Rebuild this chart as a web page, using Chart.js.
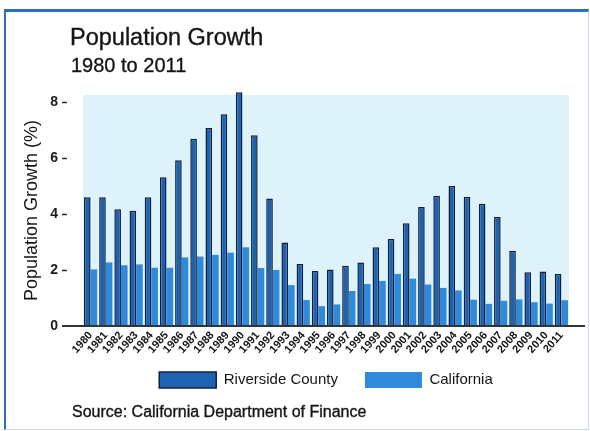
<!DOCTYPE html>
<html>
<head>
<meta charset="utf-8">
<title>Population Growth</title>
<script src="https://cdn.jsdelivr.net/npm/chart.js@4/dist/chart.umd.min.js"></script>
<style>
  html, body { margin: 0; padding: 0; background: #fff; }
  #wrap { position: relative; width: 590px; height: 431px; font-family: "Liberation Sans", Arial, sans-serif; color: #151515; }
  #frame { position: absolute; left: 4px; top: 9px; width: 582px; height: 417px;
           border-top: 3px solid #2f6fb8; border-left: 2px solid #2f6fb8;
           border-right: 1px solid #cdd8e4; border-bottom: 1px solid #cdd8e4; }
  canvas { position: absolute; left: 0; top: 0; }
  .txt { position: absolute; white-space: nowrap; line-height: 1; -webkit-text-stroke: 0.35px #151515; }
  #title { left: 70px; top: 26px; font-size: 23.5px; }
  #subtitle { left: 71px; top: 55px; font-size: 20px; }
  #source { left: 72px; top: 404px; font-size: 16px; }
</style>
</head>
<body>
<div id="wrap">
  <div id="frame"></div>
  <canvas id="growthChart" width="590" height="431"></canvas>
  <div class="txt" id="title">Population Growth</div>
  <div class="txt" id="subtitle">1980 to 2011</div>
  <div class="txt" id="source">Source: California Department of Finance</div>
</div>
<script>
const years = ['1980', '1981', '1982', '1983', '1984', '1985', '1986', '1987',
  '1988', '1989', '1990', '1991', '1992', '1993', '1994', '1995',
  '1996', '1997', '1998', '1999', '2000', '2001', '2002', '2003',
  '2004', '2005', '2006', '2007', '2008', '2009', '2010', '2011'];

// annual growth, percent
const riverside = [4.6, 4.6, 4.17, 4.12, 4.6, 5.31, 5.92, 6.69,
  7.07, 7.56, 8.35, 6.81, 4.55, 2.98, 2.21, 1.96,
  2.02, 2.15, 2.27, 2.81, 3.11, 3.67, 4.25, 4.65,
  5.0, 4.61, 4.37, 3.89, 2.69, 1.92, 1.95, 1.86];
const california = [2.02, 2.27, 2.17, 2.2, 2.08, 2.08, 2.45, 2.48,
  2.54, 2.62, 2.81, 2.07, 2.0, 1.46, 0.93, 0.71,
  0.77, 1.25, 1.5, 1.61, 1.86, 1.69, 1.48, 1.36,
  1.27, 0.94, 0.79, 0.9, 0.95, 0.85, 0.8, 0.92];

const yTicks = [0, 2, 4, 6, 8];

// light plot background, tick dashes and the long zero line
const plotDecor = {
  id: 'plotDecor',
  afterLayout(chart) {
    // pull the legend up under the rotated year labels
    const lg = chart.legend;
    lg.top -= 15;
    lg.bottom -= 15;
  },
  beforeDraw(chart) {
    const {ctx, chartArea: a} = chart;
    ctx.save();
    ctx.fillStyle = '#def2fa';
    ctx.fillRect(a.left, a.top, a.right - a.left, a.bottom - a.top);
    ctx.restore();
  },
  afterDatasetsDraw(chart) {
    const {ctx, chartArea: a} = chart;
    const y = chart.scales.y;
    ctx.save();
    ctx.strokeStyle = '#2a2a2a';
    ctx.lineWidth = 1.5;
    yTicks.forEach(v => {
      if (v === 0) return;
      const py = Math.round(y.getPixelForValue(v)) + 0.5;
      ctx.beginPath();
      ctx.moveTo(a.left - 21, py);
      ctx.lineTo(a.left - 16, py);
      ctx.stroke();
    });
    const y0 = y.getPixelForValue(0);
    ctx.lineWidth = 2;
    ctx.strokeStyle = '#333';
    ctx.beginPath();
    ctx.moveTo(a.left - 21, y0);
    ctx.lineTo(a.right + 16, y0);
    ctx.stroke();
    ctx.restore();
  }
};

const ctx = document.getElementById('growthChart').getContext('2d');
const growthChart = new Chart(ctx, {
  type: 'bar',
  data: {
    labels: years,
    datasets: [
      {
        label: 'Riverside County',
        data: riverside,
        backgroundColor: '#1d61b3',
        borderColor: '#13203a',
        borderWidth: 1.5,
        clip: false
      },
      {
        label: 'California',
        data: california,
        backgroundColor: '#3189d9',
        borderWidth: 0,
        clip: false
      }
    ]
  },
  options: {
    responsive: false,
    animation: false,
    devicePixelRatio: 1,
    categoryPercentage: 0.87,
    barPercentage: 1.0,
    layout: {
      padding: { top: 95, left: 12, right: 21, bottom: 18 }
    },
    plugins: {
      legend: {
        position: 'bottom',
        fullSize: false,
        labels: {
          boxWidth: 57,
          boxHeight: 16,
          padding: 27,
          color: '#151515',
          font: { family: '"Liberation Sans", Arial, sans-serif', size: 15 }
        }
      },
      tooltip: { enabled: false }
    },
    scales: {
      x: {
        grid: { display: false, drawTicks: false },
        border: { display: false },
        ticks: {
          autoSkip: false,
          minRotation: 48,
          maxRotation: 48,
          padding: 3,
          color: '#141414',
          font: { family: '"Liberation Sans", Arial, sans-serif', size: 11, weight: 'bold' }
        },
        afterFit(scale) { scale.height = 34; }
      },
      y: {
        min: 0,
        max: 8.25,
        grid: { display: false, drawTicks: false },
        border: { display: false },
        ticks: {
          stepSize: 2,
          includeBounds: false,
          padding: 25,
          color: '#1a1a1a',
          font: { family: '"Liberation Sans", Arial, sans-serif', size: 14, weight: 'bold' }
        },
        title: {
          display: true,
          text: 'Population Growth (%)',
          color: '#151515',
          padding: { top: 9, bottom: 0 },
          font: { family: '"Liberation Sans", Arial, sans-serif', size: 18 }
        },
        afterFit(scale) { scale.width = 71; }
      }
    }
  },
  plugins: [plotDecor]
});
</script>
</body>
</html>
